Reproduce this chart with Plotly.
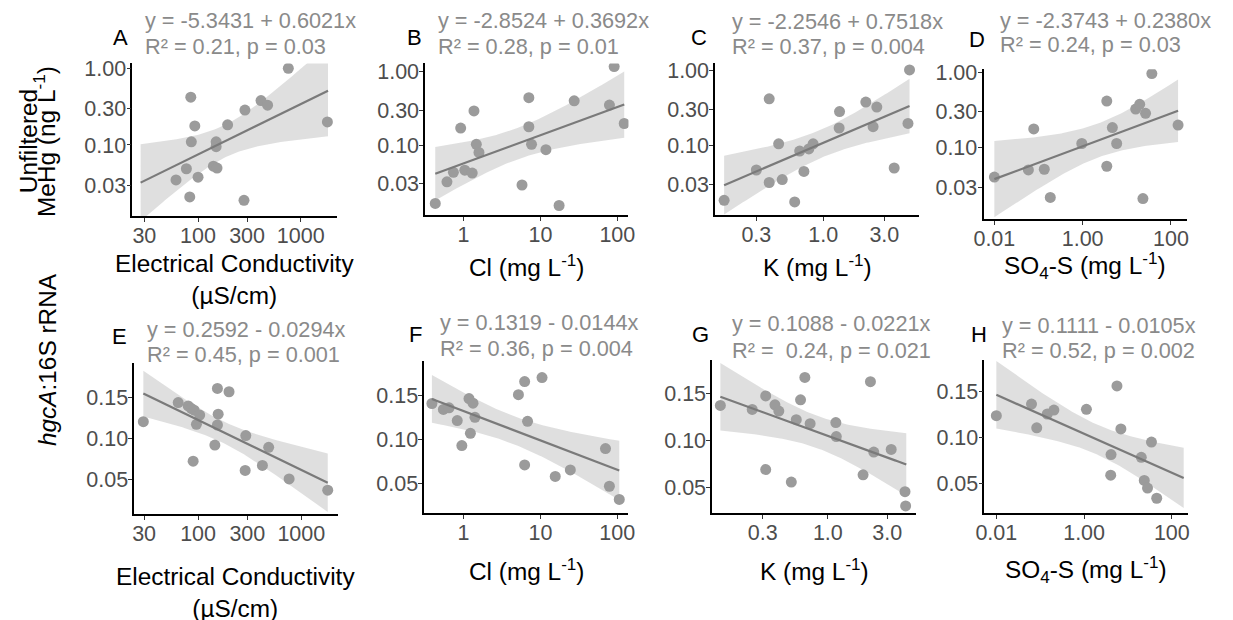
import numpy as np
import plotly.graph_objects as go

W, H = 1233, 620
OFF = 14  # shift of the drawing inside the photographed page

# ---------------- data ----------------
# Row 1: Unfiltered MeHg (ng/L)
ec_a = [756, 85, 410, 475, 286, 1815, 93, 194, 86, 150, 150, 141, 153, 77, 100, 61, 83, 280]
mehg_a = [1.0, 0.42, 0.38, 0.33, 0.285, 0.20, 0.177, 0.183, 0.110, 0.110, 0.095, 0.053, 0.050, 0.049, 0.038, 0.035, 0.021, 0.019]

cl_b = [0.43, 0.61, 0.74, 1.04, 1.30, 0.92, 1.37, 1.47, 1.59, 5.77, 7.08, 7.08, 7.67, 11.8, 17.5, 27.5, 79, 91, 123]
mehg_b = [0.0163, 0.032, 0.043, 0.046, 0.042, 0.171, 0.291, 0.103, 0.080, 0.029, 0.44, 0.178, 0.103, 0.087, 0.0153, 0.40, 0.35, 1.16, 0.197]

k_c = [0.168, 0.30, 0.378, 0.378, 0.448, 0.478, 0.598, 0.654, 0.706, 0.771, 0.833, 1.33, 1.34, 2.15, 2.45, 2.62, 3.58, 4.59, 4.72]
mehg_c = [0.0185, 0.047, 0.42, 0.032, 0.105, 0.035, 0.0176, 0.084, 0.045, 0.090, 0.105, 0.171, 0.283, 0.38, 0.178, 0.326, 0.050, 0.197, 1.02]

so4_d = [0.01, 0.078, 0.059, 0.135, 0.185, 0.957, 3.52, 4.71, 5.89, 3.52, 15.9, 19.6, 26.6, 36.9, 23.2, 145]
mehg_d = [0.041, 0.178, 0.051, 0.052, 0.022, 0.114, 0.415, 0.185, 0.114, 0.057, 0.326, 0.376, 0.286, 0.96, 0.0213, 0.20]

# Row 2: hgcA:16S rRNA
ec_e = [29.5, 64.2, 80.2, 86.3, 91.6, 89.6, 96.4, 103.7, 154, 156.6, 154, 145.4, 199.5, 290, 286, 483, 420, 762, 1803]
hgca_e = [0.1204, 0.1436, 0.1396, 0.1364, 0.1344, 0.0724, 0.1172, 0.1284, 0.1608, 0.1296, 0.1164, 0.092, 0.1568, 0.1036, 0.0612, 0.0892, 0.0672, 0.0508, 0.0372]

cl_f = [0.389, 0.548, 0.649, 0.830, 0.952, 1.18, 1.33, 1.41, 1.23, 5.18, 6.24, 6.81, 6.24, 10.5, 15.6, 24.5, 70.2, 78.9, 106]
hgca_f = [0.1409, 0.1341, 0.136, 0.1214, 0.0929, 0.1465, 0.1413, 0.1251, 0.1068, 0.151, 0.166, 0.1206, 0.0708, 0.1705, 0.0576, 0.0651, 0.0895, 0.0464, 0.0314]

k_g = [0.137, 0.247, 0.317, 0.317, 0.376, 0.404, 0.509, 0.558, 0.604, 0.654, 0.721, 1.16, 1.17, 1.92, 2.20, 2.34, 3.23, 4.17, 4.22]
hgca_g = [0.1372, 0.133, 0.1474, 0.0691, 0.1379, 0.1312, 0.0558, 0.1221, 0.1432, 0.167, 0.1179, 0.119, 0.1042, 0.0635, 0.1625, 0.0877, 0.0905, 0.0456, 0.0305]

so4_h = [0.01, 0.0633, 0.0833, 0.145, 0.205, 1.13, 5.61, 6.90, 4.11, 4.04, 20.1, 34.3, 23.5, 27.9, 45.2]
hgca_h = [0.1239, 0.1366, 0.1105, 0.1257, 0.130, 0.1308, 0.1565, 0.1094, 0.0812, 0.0587, 0.0783, 0.0949, 0.0529, 0.0446, 0.0334]

# x extent of each fitted line
fit_span = {
    "A": [27.6, 1841], "B": [0.43, 123], "C": [0.168, 4.72], "D": [0.01, 145],
    "E": [29.5, 1803], "F": [0.389, 106], "G": [0.137, 4.27], "H": [0.01, 186],
}

panel_letters = ["A", "B", "C", "D", "E", "F", "G", "H"]
eq_text = [
    "y = -5.3431 + 0.6021x", "y = -2.8524 + 0.3692x", "y = -2.2546 + 0.7518x", "y = -2.3743 + 0.2380x",
    "y = 0.2592 - 0.0294x", "y = 0.1319 - 0.0144x", "y = 0.1088 - 0.0221x", "y = 0.1111 - 0.0105x",
]
r2_text = [
    "R² = 0.21, p = 0.03", "R² = 0.28, p = 0.01", "R² = 0.37, p = 0.004", "R² = 0.24, p = 0.03",
    "R² = 0.45, p = 0.001", "R² = 0.36, p = 0.004", "R² =&nbsp; 0.24, p = 0.021", "R² = 0.52, p = 0.002",
]
x_titles = [
    "Electrical Conductivity<br>(µS/cm)", "Cl (mg L<sup>-1</sup>)", "K (mg L<sup>-1</sup>)", "SO<sub>4</sub>-S (mg L<sup>-1</sup>)",
    "Electrical Conductivity<br>(µS/cm)", "Cl (mg L<sup>-1</sup>)", "K (mg L<sup>-1</sup>)", "SO<sub>4</sub>-S (mg L<sup>-1</sup>)",
]
row1_title_lines = ["Unfiltered", "MeHg (ng L<sup>-1</sup>)"]
row2_title = "<i>hgcA</i>:16S rRNA"

ec_ticks, ec_labels = [30, 100, 300, 1000], ["30", "100", "300", "1000"]
cl_ticks, cl_labels = [1, 10, 100], ["1", "10", "100"]
k_ticks, k_labels = [0.3, 1, 3], ["0.3", "1.0", "3.0"]
so4_ticks, so4_labels = [0.01, 1, 100], ["0.01", "1.00", "100"]
mehg_ticks, mehg_labels = [0.03, 0.1, 0.3, 1], ["0.03", "0.10", "0.30", "1.00"]
hgca_ticks, hgca_labels = [0.05, 0.10, 0.15], ["0.05", "0.10", "0.15"]

# ---------------- layout geometry (pixels of the reference) ----------------
panels = [
    dict(x=ec_a, y=mehg_a, box=(130, 337, 62, 217), xr=[1.361, 3.348], yr=[-1.931, 0.064], logy=True,
         xt=(ec_ticks, ec_labels), yt=(mehg_ticks, mehg_labels)),
    dict(x=cl_b, y=mehg_b, box=(427, 633, 62, 216), xr=[-0.496, 2.145], yr=[-1.949, 0.108], logy=True,
         xt=(cl_ticks, cl_labels), yt=(mehg_ticks, mehg_labels)),
    dict(x=k_c, y=mehg_c, box=(721, 928, 62, 216), xr=[-0.844, 0.751], yr=[-1.934, 0.096], logy=True,
         xt=(k_ticks, k_labels), yt=(mehg_ticks, mehg_labels)),
    dict(x=so4_d, y=mehg_d, box=(993, 1199, 68, 220), xr=[-2.246, 2.356], yr=[-1.947, 0.039], logy=True,
         xt=(so4_ticks, so4_labels), yt=(mehg_ticks, mehg_labels)),
    dict(x=ec_e, y=hgca_e, box=(132, 338, 366, 519), xr=[1.383, 3.351], yr=[0.0076, 0.1912], logy=False,
         xt=(ec_ticks, ec_labels), yt=(hgca_ticks, hgca_labels)),
    dict(x=cl_f, y=hgca_f, box=(426, 633, 364, 518), xr=[-0.509, 2.145], yr=[0.0153, 0.1889], logy=False,
         xt=(cl_ticks, cl_labels), yt=(hgca_ticks, hgca_labels)),
    dict(x=k_g, y=hgca_g, box=(718, 925, 363, 518), xr=[-0.928, 0.712], yr=[0.0224, 0.185], logy=False,
         xt=(k_ticks, k_labels), yt=(hgca_ticks, hgca_labels)),
    dict(x=so4_h, y=hgca_h, box=(994, 1200, 363, 518), xr=[-2.27, 2.36], yr=[0.0167, 0.1843], logy=False,
         xt=(so4_ticks, so4_labels), yt=(hgca_ticks, hgca_labels)),
]
letter_pos = [(108, 36), (406, 36), (694, 36), (976, 38), (107, 339), (408, 337), (695, 337), (978, 337)]
eq_x = [141, 438, 736, 1008, 143, 440, 736, 1010]
eq_y = [(19, 45), (19, 45), (20, 45), (19, 43), (332, 357), (324, 351), (326, 353), (328, 353)]
xtitle_y = [281, 267, 267, 267, 598, 575, 575, 575]

T975 = {12: 2.179, 13: 2.160, 14: 2.145, 15: 2.131, 16: 2.120, 17: 2.110, 18: 2.101, 19: 2.093}

FONT = "Liberation Sans, Arial, Helvetica, sans-serif"
PT_COLOR = "#9b9b9b"
LINE_COLOR = "#7a7a7a"
BAND_COLOR = "rgba(170,170,170,0.38)"
EQ_COLOR = "#8a8a8a"


def px(xp):
    return (xp - OFF) / W


def py(yp):
    return 1 - (yp - OFF) / H


def fit(xv, yv, logy, span):
    lx = np.log10(np.asarray(xv, float))
    yy = np.log10(np.asarray(yv, float)) if logy else np.asarray(yv, float)
    n = len(lx)
    b, a = np.polyfit(lx, yy, 1)
    res = yy - (a + b * lx)
    s = np.sqrt((res ** 2).sum() / (n - 2))
    xs = np.linspace(np.log10(span[0]), np.log10(span[1]), 100)
    pred = a + b * xs
    se = s * np.sqrt(1.0 / n + (xs - lx.mean()) ** 2 / ((lx - lx.mean()) ** 2).sum())
    t = T975[n - 2]
    lo, hi = pred - t * se, pred + t * se
    if logy:
        pred, lo, hi = 10 ** pred, 10 ** lo, 10 ** hi
    return 10 ** xs, pred, lo, hi


fig = go.Figure()
layout = dict(
    width=W, height=H, margin=dict(l=0, r=0, t=0, b=0),
    paper_bgcolor="white", plot_bgcolor="white",
    showlegend=False, font=dict(family=FONT, color="black"),
)
annotations = []

for i, p in enumerate(panels):
    k = i + 1
    xa, ya = f"x{k}", f"y{k}"
    xs, pred, lo, hi = fit(p["x"], p["y"], p["logy"], fit_span[panel_letters[i]])
    fig.add_trace(go.Scatter(
        x=np.concatenate([xs, xs[::-1]]), y=np.concatenate([hi, lo[::-1]]),
        fill="toself", fillcolor=BAND_COLOR, line=dict(width=0), mode="lines",
        hoverinfo="skip", xaxis=xa, yaxis=ya))
    fig.add_trace(go.Scatter(
        x=p["x"], y=p["y"], mode="markers",
        marker=dict(size=11, color=PT_COLOR, line=dict(width=0)),
        xaxis=xa, yaxis=ya))
    fig.add_trace(go.Scatter(
        x=xs, y=pred, mode="lines", line=dict(color=LINE_COLOR, width=2.2),
        xaxis=xa, yaxis=ya))

    x0, x1, yt, yb = p["box"]
    common = dict(showline=True, linecolor="black", linewidth=1.8, ticks="outside",
                  ticklen=4, tickwidth=1.3, tickcolor="#333333", showgrid=False,
                  zeroline=False, tickfont=dict(size=21.5, color="#4d4d4d", family=FONT))
    layout[f"xaxis{k}"] = dict(type="log", domain=[px(x0), px(x1)], range=p["xr"], anchor=ya,
                               tickvals=p["xt"][0], ticktext=p["xt"][1], ticklabelstandoff=-5, **common)
    layout[f"yaxis{k}"] = dict(type="log" if p["logy"] else "linear",
                               domain=[py(yb), py(yt)], range=p["yr"], anchor=xa,
                               tickvals=p["yt"][0], ticktext=p["yt"][1], ticklabelstandoff=-4, **common)

    lx, ly = letter_pos[i]
    annotations.append(dict(text=panel_letters[i], x=px(lx), y=py(ly), xref="paper", yref="paper",
                            xanchor="left", yanchor="middle", showarrow=False,
                            font=dict(size=22, color="black")))
    annotations.append(dict(text=eq_text[i], x=px(eq_x[i]), y=py(eq_y[i][0]), xref="paper", yref="paper",
                            xanchor="left", yanchor="middle", showarrow=False,
                            font=dict(size=21.7, color=EQ_COLOR)))
    annotations.append(dict(text=r2_text[i], x=px(eq_x[i]), y=py(eq_y[i][1]), xref="paper", yref="paper",
                            xanchor="left", yanchor="middle", showarrow=False,
                            font=dict(size=21.7, color=EQ_COLOR)))
    annotations.append(dict(text=x_titles[i], x=px((x0 + x1) / 2), y=py(xtitle_y[i]), xref="paper", yref="paper",
                            xanchor="center", yanchor="middle", showarrow=False,
                            font=dict(size=24.4, color="black")))

for txt, xc in zip(row1_title_lines, [24, 42]):
    annotations.append(dict(text=txt, x=px(xc), y=py(141), xref="paper", yref="paper",
                            xanchor="center", yanchor="middle", textangle=-90, showarrow=False,
                            font=dict(size=24.4, color="black")))
annotations.append(dict(text=row2_title, x=px(44), y=py(362), xref="paper", yref="paper",
                        xanchor="center", yanchor="middle", textangle=-90, showarrow=False,
                        font=dict(size=24.4, color="black")))

layout["annotations"] = annotations
fig.update_layout(**layout)
fig.write_html("out.html")
